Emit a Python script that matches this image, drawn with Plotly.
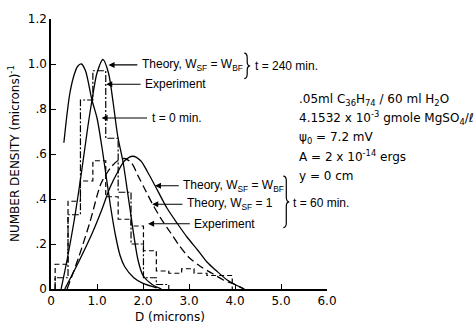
import plotly.graph_objects as go

# ---------------- data ----------------
# Theory, t = 0 min
t0_x = [0.28, 0.35, 0.41, 0.50, 0.58, 0.66, 0.75, 0.89, 1.00, 1.10, 1.20, 1.30, 1.40, 1.50, 1.60, 1.80, 2.00, 2.30]
t0_y = [0.65, 0.78, 0.87, 0.95, 0.99, 1.00, 0.97, 0.84, 0.76, 0.64, 0.50, 0.36, 0.24, 0.15, 0.10, 0.05, 0.025, 0.005]

# Theory, W_SF = W_BF, t = 240 min
t240_x = [0.22, 0.35, 0.50, 0.65, 0.80, 0.90, 1.00, 1.13, 1.25, 1.35, 1.45, 1.57, 1.70, 1.89, 2.00, 2.20, 2.40]
t240_y = [0.00, 0.13, 0.30, 0.50, 0.72, 0.85, 0.96, 1.02, 0.96, 0.83, 0.68, 0.56, 0.38, 0.13, 0.06, 0.02, 0.00]

# Theory, W_SF = W_BF, t = 60 min
t60a_x = [0.30, 0.60, 0.90, 1.10, 1.28, 1.45, 1.60, 1.78, 1.95, 2.10, 2.26, 2.52, 2.75, 2.96, 3.20, 3.39, 3.60, 3.83, 4.00, 4.20]
t60a_y = [0.00, 0.12, 0.25, 0.35, 0.45, 0.52, 0.57, 0.59, 0.57, 0.52, 0.46, 0.36, 0.29, 0.23, 0.17, 0.12, 0.08, 0.04, 0.02, 0.00]

# Theory, W_SF = 1, t = 60 min
t60b_x = [0.35, 0.60, 0.85, 1.09, 1.30, 1.45, 1.60, 1.75, 1.90, 2.05, 2.20, 2.40, 2.60, 2.80, 3.00, 3.25, 3.50, 3.75, 4.00, 4.20]
t60b_y = [0.00, 0.14, 0.30, 0.47, 0.54, 0.57, 0.58, 0.56, 0.50, 0.44, 0.38, 0.31, 0.25, 0.19, 0.14, 0.10, 0.07, 0.04, 0.02, 0.00]

# Experimental histograms (bin edges, heights)
exp60_edges = [0.09, 0.37, 0.64, 0.91, 1.19, 1.46, 1.74, 2.01, 2.29, 2.56, 2.84, 3.11, 3.39, 3.66, 3.94]
exp60_h = [0.11, 0.39, 0.48, 0.57, 0.41, 0.31, 0.28, 0.17, 0.08, 0.07, 0.09, 0.07, 0.06, 0.06]

exp240_edges = [0.09, 0.37, 0.64, 0.91, 1.19, 1.46, 1.74, 2.01, 2.29, 2.56]
exp240_h = [0.05, 0.33, 0.84, 0.97, 0.67, 0.43, 0.20, 0.05, 0.02]

x_ticks = [0, 1, 2, 3, 4, 5, 6]
x_ticktext = ["0", "1.0", "2.0", "3.0", "4.0", "5.0", "6.0"]
y_ticks = [0, 0.2, 0.4, 0.6, 0.8, 1.0, 1.2]
y_ticktext = ["0", ".2", ".4", ".6", ".8", "1.0", "1.2"]

FONT = "Liberation Sans, Arial, sans-serif"
FONT_W = "DejaVu Sans, Verdana, sans-serif"


def step_xy(edges, heights):
    xs = [edges[0]] + list(edges)
    ys = [0] + list(heights) + [0]
    return xs, ys


fig = go.Figure()

line_kw = dict(color="black", width=1.3)

fig.add_trace(go.Scatter(x=t0_x, y=t0_y, mode="lines", line=dict(**line_kw, shape="spline", smoothing=0.8)))
fig.add_trace(go.Scatter(x=t240_x, y=t240_y, mode="lines", line=dict(**line_kw, shape="spline", smoothing=0.8)))
fig.add_trace(go.Scatter(x=t60a_x, y=t60a_y, mode="lines", line=dict(**line_kw, shape="spline", smoothing=0.8)))
fig.add_trace(go.Scatter(x=t60b_x, y=t60b_y, mode="lines",
                         line=dict(color="black", width=1.3, dash="8px,4px", shape="spline", smoothing=0.8)))

hx, hy = step_xy(exp60_edges, exp60_h)
fig.add_trace(go.Scatter(x=hx, y=hy, mode="lines",
                         line=dict(color="black", width=1.2, dash="5px,3px", shape="hv")))
hx, hy = step_xy(exp240_edges, exp240_h)
fig.add_trace(go.Scatter(x=hx, y=hy, mode="lines",
                         line=dict(color="black", width=1.2, dash="7px,2px,2px,2px", shape="hv")))


def brace(x0, ytop, ybot, w, r):
    a = w / 2
    ym = (ytop + ybot) / 2
    return (f"M {x0},{ytop} Q {x0 + a},{ytop} {x0 + a},{ytop - r} "
            f"L {x0 + a},{ym + r} Q {x0 + a},{ym} {x0 + w},{ym} "
            f"Q {x0 + a},{ym} {x0 + a},{ym - r} "
            f"L {x0 + a},{ybot + r} Q {x0 + a},{ybot} {x0},{ybot}")


fig.add_shape(type="path", path=brace(4.20, 1.048, 0.935, 0.13, 0.02),
              xref="x", yref="y", line=dict(color="black", width=1.2))
fig.add_shape(type="path", path=brace(5.05, 0.502, 0.273, 0.13, 0.02),
              xref="x", yref="y", line=dict(color="black", width=1.2))

annotations = []


def label(x, y, text, size=12, family=FONT):
    annotations.append(dict(x=x, y=y, xref="x", yref="y", text=text, showarrow=False,
                            xanchor="left", yanchor="middle",
                            font=dict(family=family, size=size, color="black")))


def arrow(x_from, x_to, y):
    annotations.append(dict(x=x_to, y=y, ax=x_from, ay=y, xref="x", yref="y",
                            axref="x", ayref="y", text="", showarrow=True,
                            arrowhead=2, arrowsize=1.1, arrowwidth=1.1, arrowcolor="black"))


label(1.93, 0.996, "Theory, W<sub>SF</sub> = W<sub>BF</sub>")
arrow(1.91, 1.25, 0.996)
label(2.00, 0.91, "Experiment")
arrow(1.98, 1.20, 0.91)
label(2.15, 0.76, "t = 0 min.")
arrow(2.12, 1.10, 0.76)
label(4.39, 0.99, "t = 240 min.")

label(2.83, 0.459, "Theory, W<sub>SF</sub> = W<sub>BF</sub>")
arrow(2.81, 2.26, 0.459)
label(2.91, 0.377, "Theory, W<sub>SF</sub> = 1")
arrow(2.89, 2.20, 0.377)
label(3.07, 0.29, "Experiment")
arrow(3.05, 2.11, 0.29)
label(5.22, 0.381, "t = 60 min.")

label(5.35, 0.840, ".05ml C<sub>36</sub>H<sub>74</sub> / 60 ml H<sub>2</sub>O", 12, FONT_W)
label(5.35, 0.758, "4.1532 x 10<sup>-3</sup> gmole MgSO<sub>4</sub>/ℓ", 12, FONT_W)
label(5.35, 0.671, "ψ<sub>0</sub> = 7.2 mV", 12, FONT_W)
label(5.35, 0.589, "A = 2 x 10<sup>-14</sup> ergs", 12, FONT_W)
label(5.35, 0.502, "y = 0 cm", 12, FONT_W)

annotations.append(dict(x=-0.134, y=0.5, xref="paper", yref="paper",
                        text="NUMBER DENSITY (microns)<sup>-1</sup>", textangle=-90,
                        showarrow=False, xanchor="center", yanchor="middle",
                        font=dict(family=FONT_W, size=12, color="black")))
annotations.append(dict(x=2.59, y=-0.105, xref="x", yref="paper", text="D (microns)",
                        showarrow=False, xanchor="center", yanchor="middle",
                        font=dict(family=FONT_W, size=12, color="black")))

fig.update_layout(
    width=476, height=330,
    margin=dict(l=51, r=149, t=12, b=41),
    paper_bgcolor="white", plot_bgcolor="white",
    showlegend=False,
    annotations=annotations,
    xaxis=dict(range=[0, 6], showline=True, linecolor="black", linewidth=1.5,
               ticks="inside", ticklen=5, tickcolor="black", tickwidth=1.2,
               tickvals=x_ticks, ticktext=x_ticktext, showgrid=False, zeroline=False,
               tickfont=dict(family=FONT_W, size=12, color="black")),
    yaxis=dict(range=[0, 1.2], showline=True, linecolor="black", linewidth=1.5,
               ticks="inside", ticklen=5, tickcolor="black", tickwidth=1.2,
               tickvals=y_ticks, ticktext=y_ticktext, showgrid=False, zeroline=False,
               ticklabeloverflow="allow",
               tickfont=dict(family=FONT_W, size=12, color="black")),
)

# remove the page's default body margin so the figure sits at the window's top-left
fig.write_html("out.html", config={"displayModeBar": False},
               post_script="document.body.style.margin='0px';")
